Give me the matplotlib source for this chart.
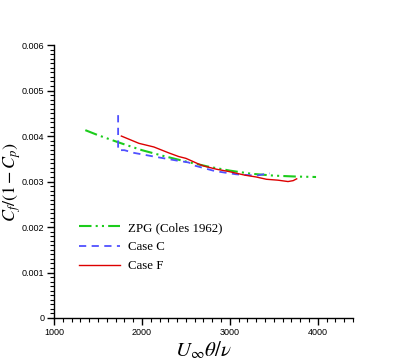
import numpy as np
import matplotlib
matplotlib.use("Agg")
import matplotlib.pyplot as plt
from matplotlib.ticker import MultipleLocator

plt.rcParams['mathtext.fontset'] = 'stix'

# ZPG correlation (Coles 1962)
zpg_re = [1356, 1500, 1750, 2000, 2250, 2500, 2750, 3000, 3250, 3500, 3750, 3980]
zpg_cf = [0.00413, 0.00402, 0.00385, 0.00369, 0.00356, 0.00344, 0.00333,
          0.00324, 0.00317, 0.00313, 0.00311, 0.00310]

# Case C
c_re = [1729, 1729, 1800, 1910, 2136, 2400, 2531, 2600, 2830, 3070, 3300, 3440, 3455]
c_cf = [0.00446, 0.00369, 0.00369, 0.00363, 0.00355, 0.00346, 0.00342, 0.00335,
        0.00323, 0.00316, 0.00313, 0.00318, 0.00318]

# Case F
f_re = [1766, 1966, 2136, 2305, 2418, 2500, 2570, 2650, 2706, 2850, 2989, 3172,
        3300, 3416, 3548, 3661, 3720, 3760]
f_cf = [0.00400, 0.00384, 0.00376, 0.00363, 0.00355, 0.00351, 0.00345, 0.00338,
        0.00334, 0.00327, 0.00322, 0.00314, 0.00310, 0.00305, 0.00303, 0.00300,
        0.00302, 0.00306]

fig = plt.figure(figsize=(4.04, 3.6), dpi=100)
ax = fig.add_axes([0.1337, 0.1167, 0.740, 0.758])

ax.plot(zpg_re, zpg_cf, color='#1ccc1c', lw=1.5, dashes=(6, 2, 1, 2, 1, 2),
        label='ZPG (Coles 1962)')
ax.plot(c_re, c_cf, color='#5050ff', lw=1.3, dashes=(4, 3), label='Case C')
ax.plot(f_re, f_cf, color='#dd0000', lw=1.0, label='Case F')

ax.set_xlim(1000, 4400)
ax.set_ylim(0, 0.006)
ax.xaxis.set_major_locator(MultipleLocator(1000))
ax.xaxis.set_minor_locator(MultipleLocator(100))
ax.yaxis.set_major_locator(MultipleLocator(0.001))
ax.yaxis.set_minor_locator(MultipleLocator(0.0001))
ax.set_yticks([0, 0.001, 0.002, 0.003, 0.004, 0.005, 0.006])
ax.set_yticklabels(['0', '0.001', '0.002', '0.003', '0.004', '0.005', '0.006'])

for s in ['top', 'right']:
    ax.spines[s].set_visible(False)
for s in ['left', 'bottom']:
    ax.spines[s].set_linewidth(1.0)

ax.tick_params(which='major', length=5, width=1.0, direction='out',
               labelsize=6.5, pad=2)
ax.tick_params(which='minor', length=3, width=0.8, direction='out')
for lab in ax.get_xticklabels() + ax.get_yticklabels():
    lab.set_family('Liberation Sans')

ax.set_xlabel(r'$U_\infty\theta/\nu$', fontsize=15, labelpad=2)
ax.set_ylabel(r'$C_f/(1-C_p)$', fontsize=13)
ax.yaxis.set_label_coords(-0.105, 0.5)

leg = ax.legend(loc='lower left', bbox_to_anchor=(0.045, 0.125), frameon=False,
                prop={'family': 'Liberation Serif', 'size': 9.3},
                handlelength=3.2, handletextpad=0.6, labelspacing=0.55)

fig.savefig('out.png', dpi=100)
